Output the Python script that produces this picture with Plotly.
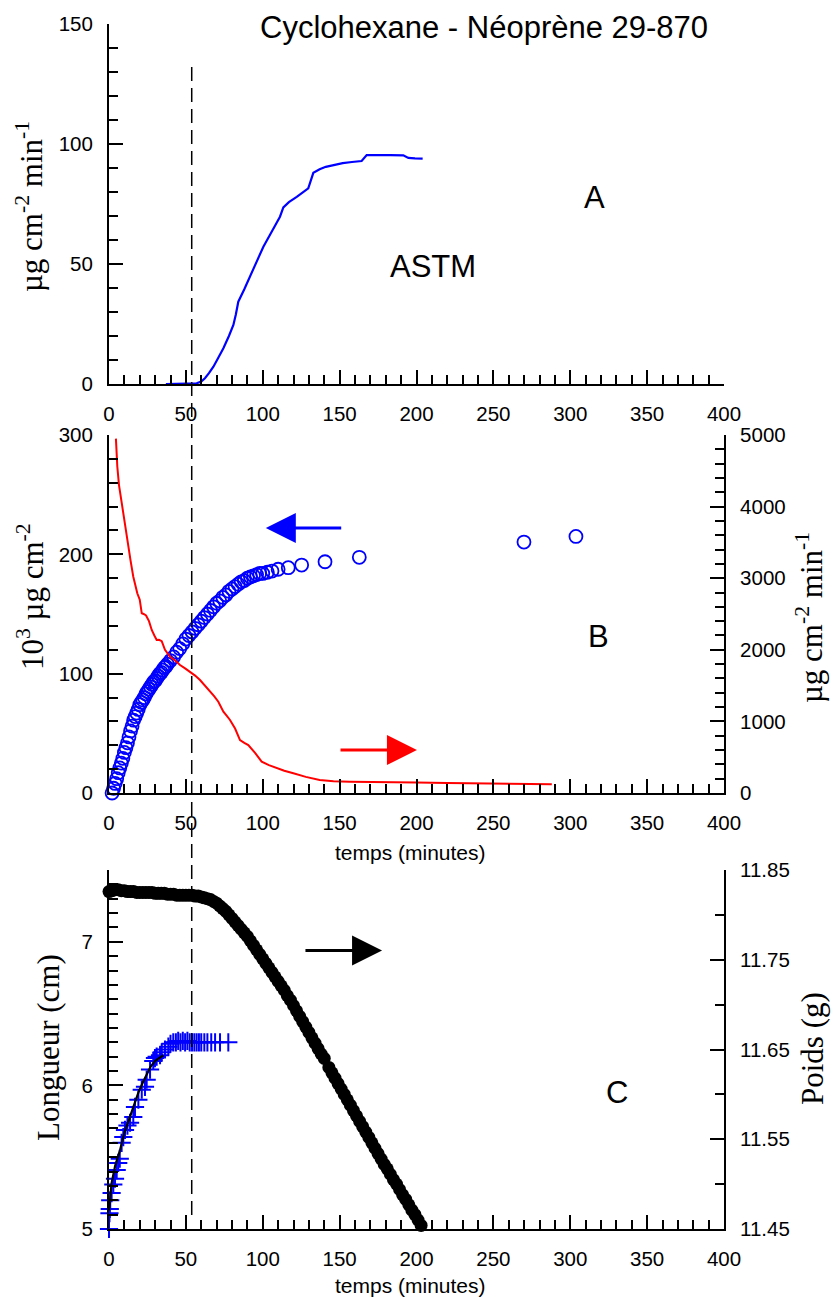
import plotly.graph_objects as go

# ---------------- DATA ----------------
# Panel A : ASTM permeation rate (µg cm-2 min-1)
t_astm = [37, 45, 52, 57, 60, 62.4, 65, 67.9, 71, 74.4, 78, 80.9, 82.5, 84.1, 88, 91.7, 96,
          100.4, 105, 108.5, 111.2, 113.4, 117, 122.1, 126, 129.6, 132.9, 137, 141, 145.9,
          152, 158, 164.3, 167.6, 175, 183, 191.4, 194.7, 199, 204]
flux_astm = [0, 0, 0, 0.3, 1.0, 2.4, 4.5, 7.2, 10.8, 14.9, 20, 24.6, 29, 34.3, 39.5, 44.7, 50.8,
             57.2, 62.5, 66.5, 69.7, 73.6, 75.8, 78, 80, 81.5, 88, 89.5, 90.5, 91.2,
             92, 92.5, 92.9, 95.4, 95.5, 95.4, 95.3, 94.2, 94.0, 93.9]

# Panel B : cumulative mass (10^3 µg cm-2, left axis)
t_cum = [2, 3, 4, 5, 6, 7, 8, 9, 10, 11, 12, 13, 14, 15, 16, 17, 18, 19, 20, 21, 22, 23, 24, 25,
         26, 27, 28, 29, 30, 31, 32, 33, 34, 35, 36, 37, 38, 40, 42, 44, 46, 48, 50, 52, 54, 56,
         58, 60, 62, 64, 66, 68, 70, 72, 74, 76, 78, 80, 82, 84, 86, 88, 90, 92, 94, 96, 98, 100,
         103, 106, 110, 116.6, 125.3, 140.5, 162.8, 269.9, 303.7]
cum = [0, 4, 8, 12, 17, 21, 25, 29, 34, 38, 42, 47, 52, 56, 61, 64, 67, 70, 74, 76, 78, 80, 83, 85,
       87, 89, 91, 93, 94, 96, 98, 100, 101, 103, 105, 106, 108, 111, 114, 118, 121, 125, 129, 132, 135, 138,
       141, 144, 147, 150, 153, 156, 159, 161, 164, 166, 169, 171, 173, 175, 177, 178, 180, 181, 182, 183, 184, 184,
       185, 186, 187.5, 188.8, 191, 193.8, 197.5, 210.3, 215]

# Panel B : permeation rate (µg cm-2 min-1, right axis)
t_rate = [4.5, 5.4, 6.5, 8.2, 10.4, 12.6, 14, 15.8, 18.4, 20, 21.3, 22.5, 24.1, 26, 27.8, 29.5, 31,
          32.5, 34.3, 36.4, 39.7, 43, 46.2, 49.5, 52.7, 56, 59.2, 62.5, 65.7, 68.5, 71.1, 72.8, 74.4,
          76.5, 78.7, 82, 85.2, 88, 90.6, 95, 99.3, 104, 109, 114, 119.9, 128, 137, 146, 156.7, 170,
          185, 200, 220, 240, 260, 275, 288]
rate = [4950, 4560, 4300, 4047, 3720, 3440, 3250, 3020, 2790, 2700, 2510, 2500, 2480, 2400, 2277, 2200, 2137,
        2140, 2120, 2000, 1904, 1850, 1787, 1740, 1695, 1640, 1578, 1500, 1415, 1350, 1275, 1200, 1135,
        1080, 1020, 900, 740, 700, 670, 560, 437, 390, 345, 310, 275, 225, 181, 165, 158, 152,
        148, 145, 140, 135, 130, 125, 121]

# Panel C : length (cm, left axis)
t_len = [0, 0.3, 0.5, 0.8, 1.7, 2.8, 3.9, 5.0, 6.0, 7.0, 8.2, 9.3, 10.4, 12.0, 13.7, 15.8, 16.9, 19.1,
         21.3, 23.4, 24.5, 26.7, 28.8, 29.9, 31.0, 33.2, 34.3, 36.4, 38.6, 40.0, 41.8, 43.5, 45.0, 46.5,
         48.0, 49.5, 51.0, 52.5, 54.0, 55.5, 57.0, 58.5, 60.0, 62.0, 64.0, 66.5, 69.0, 72.2, 77.6]
length = [5.00, 5.11, 5.14, 5.20, 5.25, 5.31, 5.35, 5.41, 5.46, 5.49, 5.60, 5.64, 5.69, 5.72, 5.74, 5.78, 5.85, 5.90,
          5.97, 5.99, 6.04, 6.11, 6.17, 6.19, 6.20, 6.21, 6.23, 6.25, 6.27, 6.29, 6.30, 6.30, 6.31, 6.30,
          6.31, 6.30, 6.31, 6.30, 6.30, 6.30, 6.30, 6.30, 6.30, 6.30, 6.30, 6.30, 6.30, 6.30, 6.30]

# Panel C : fitted length curve
t_fit = [0, 1.7, 4, 7.2, 10, 13.7, 16.5, 19.1, 22, 24.5, 27, 29.9, 32.5, 35.3]
fit = [5.13, 5.32, 5.44, 5.55, 5.67, 5.78, 5.87, 5.95, 6.02, 6.08, 6.13, 6.17, 6.19, 6.21]

# Panel C : weight (g, right axis)
t_w = [0, 2, 4, 6, 8, 10, 12, 14, 16, 18, 20, 22, 24, 26, 28, 30, 32, 34, 36, 38, 40, 42, 44, 46, 48,
       50, 52, 54, 56, 58, 60, 62, 64, 66, 68, 70, 72, 74, 76, 78, 80, 82, 84, 86, 88, 90, 92, 94, 96,
       98, 100, 102, 104, 106, 108, 110, 112, 114, 116, 118, 120, 122, 124, 126, 128, 130, 132, 134,
       136, 138, 140, 143, 145, 147, 149, 151, 153, 155, 157, 159, 161, 163, 165, 167, 169, 171, 173,
       175, 177, 179, 181, 183, 185, 187, 189, 191, 193, 195, 197, 199, 201, 203]
weight = [11.826, 11.827, 11.828, 11.828, 11.827, 11.827, 11.826, 11.826, 11.826, 11.825, 11.825, 11.825,
          11.825, 11.825, 11.825, 11.824, 11.824, 11.824, 11.824, 11.823, 11.823, 11.823, 11.822, 11.822,
          11.822, 11.822, 11.822, 11.822, 11.821, 11.821, 11.820, 11.819, 11.818, 11.817, 11.815, 11.813,
          11.810, 11.807, 11.804, 11.800, 11.796, 11.792, 11.788, 11.784, 11.780, 11.776, 11.771, 11.766,
          11.761, 11.756, 11.751, 11.746, 11.741, 11.736, 11.731, 11.726, 11.721, 11.716, 11.710, 11.705,
          11.699, 11.693, 11.687, 11.681, 11.675, 11.669, 11.663, 11.657, 11.651, 11.645, 11.640, 11.630,
          11.624, 11.618, 11.612, 11.606, 11.600, 11.594, 11.588, 11.582, 11.576, 11.570, 11.564, 11.558,
          11.552, 11.546, 11.540, 11.534, 11.528, 11.522, 11.517, 11.511, 11.505, 11.500, 11.494, 11.488,
          11.483, 11.477, 11.471, 11.466, 11.460, 11.454]

x_ticks = [0, 50, 100, 150, 200, 250, 300, 350, 400]
len_labels = [5, 6, 7]
len_half_ticks = [5.5, 6.5, 7.5]
t_break = 53.8  # dashed vertical line (breakthrough time)

# ---------------- LAYOUT HELPERS ----------------
W, H = 833, 1299
def px(x):
    return x / W
def py(y):
    return 1 - y / H

XD = [px(109), px(724)]
SANS = "Liberation Sans, Arial, sans-serif"
SERIF = "Liberation Serif, Times New Roman, serif"
BLUE = "#0000ff"
RED = "#ff0000"

fig = go.Figure()

fig.add_trace(go.Scatter(x=t_astm, y=flux_astm, mode="lines", line=dict(color=BLUE, width=2.2),
                         xaxis="x", yaxis="y", showlegend=False))
fig.add_trace(go.Scatter(x=t_rate, y=rate, mode="lines", line=dict(color=RED, width=2),
                         xaxis="x2", yaxis="y3", showlegend=False))
fig.add_trace(go.Scatter(x=t_cum, y=cum, mode="markers", cliponaxis=False,
                         marker=dict(symbol="circle-open", size=13, color=BLUE, line=dict(width=1.8, color=BLUE)),
                         xaxis="x2", yaxis="y2", showlegend=False))
fig.add_trace(go.Scatter(x=t_w, y=weight, mode="markers", cliponaxis=False,
                         marker=dict(symbol="circle", size=13, color="black"),
                         xaxis="x3", yaxis="y5", showlegend=False))
fig.add_trace(go.Scatter(x=t_len, y=length, mode="markers", cliponaxis=False,
                         marker=dict(symbol="cross-thin", size=13, color=BLUE, line=dict(width=2, color=BLUE)),
                         xaxis="x3", yaxis="y4", showlegend=False))
fig.add_trace(go.Scatter(x=t_fit, y=fit, mode="lines", line=dict(color="black", width=2.2),
                         xaxis="x3", yaxis="y4", showlegend=False))

TICKFONT = dict(family=SANS, size=20.5, color="black")

def xax(anchor):
    return dict(domain=XD, anchor=anchor, range=[0, 400], showline=True, linecolor="black", linewidth=2,
                ticks="inside", ticklen=14, tickwidth=2, tickcolor="black", tickvals=x_ticks,
                minor=dict(ticks="inside", ticklen=9, tickwidth=2, tickcolor="black", dtick=10, tick0=0),
                showgrid=False, zeroline=False, mirror=False, ticklabelstandoff=10, automargin=False,
                tickfont=TICKFONT)

def yax(domain, rng, dtick, minor, anchor, side="left", overlaying=None, tick0=None, fmt=None,
        tickvals=None):
    d = dict(domain=domain, anchor=anchor, range=rng, side=side, showline=True, linecolor="black",
             linewidth=2, ticks="inside", ticklen=14, tickwidth=2, tickcolor="black",
             minor=dict(ticks="inside", ticklen=9, tickwidth=2, tickcolor="black", dtick=minor,
                        tick0=rng[0]),
             showgrid=False, zeroline=False, ticklabelstandoff=10, automargin=False,
             tickfont=TICKFONT)
    if tickvals is not None:
        d["tickvals"] = tickvals
    else:
        d["dtick"] = dtick
        d["tick0"] = rng[0] if tick0 is None else tick0
    if overlaying:
        d["overlaying"] = overlaying
    if fmt:
        d["tickformat"] = fmt
    return d

DOM_C = [py(1229), py(870)]
fig.update_layout(
    width=W, height=H, margin=dict(l=0, r=0, t=0, b=0, pad=0), autosize=False,
    paper_bgcolor="white", plot_bgcolor="white", showlegend=False,
    font=dict(family=SANS, color="black"),
    xaxis=xax("y"),
    xaxis2=xax("y2"),
    xaxis3=xax("y4"),
    yaxis=yax([py(384), py(24)], [0, 150], 50, 10, "x"),
    yaxis2=yax([py(793), py(435)], [0, 300], 100, 20, "x2"),
    yaxis3=yax([py(793), py(435)], [0, 5000], 1000, 200, "x2", side="right", overlaying="y2"),
    yaxis4=yax(DOM_C, [5, 7.5], None, 0.1, "x3", tickvals=len_labels),
    yaxis5=yax(DOM_C, [11.45, 11.85], 0.1, 0.05, "x3", side="right", overlaying="y4",
               tick0=11.45, fmt=".2f"),
    # unlabeled long ticks at the half-centimetres of the length axis
    yaxis6=dict(domain=DOM_C, anchor="x3", overlaying="y4", side="left", range=[5, 7.5],
                tickvals=len_half_ticks, ticks="inside", ticklen=14, tickwidth=2, tickcolor="black",
                showticklabels=False, showline=False, showgrid=False, zeroline=False, automargin=False),
)

# dashed breakthrough line through all panels
fig.add_shape(type="line", xref="x", yref="paper", x0=t_break, x1=t_break, y0=py(1215), y1=py(60),
              line=dict(color="black", width=1.5, dash="14px,7px"), layer="above")

def txt(x, y, s, size, family=SANS, angle=0):
    fig.add_annotation(xref="paper", yref="paper", x=px(x), y=py(y), text=s, showarrow=False,
                       xanchor="center", yanchor="middle", textangle=angle,
                       font=dict(family=family, size=size, color="black"))

txt(484, 28, "Cyclohexane - Néoprène 29-870", 31)
txt(433, 266, "ASTM", 31)
txt(594, 198, "A", 31)
txt(598, 637, "B", 31)
txt(617, 1092, "C", 31)
txt(410, 852, "temps (minutes)", 21)
txt(410, 1285, "temps (minutes)", 21)
txt(30, 207, "µg cm<sup>-2</sup> min<sup>-1</sup>", 31, SERIF, -90)
txt(30, 597, "10<sup>3</sup> µg cm<sup>-2</sup>", 31, SERIF, -90)
txt(810, 618, "µg cm<sup>-2</sup> min<sup>-1</sup>", 31, SERIF, -90)
txt(48, 1048, "Longueur (cm)", 31, SERIF, -90)
txt(812, 1049, "Poids (g)", 31, SERIF, -90)

# direction arrows
def arrow(xref, yref, x, y, ax, ay, color):
    fig.add_annotation(xref=xref, yref=yref, axref=xref, ayref=yref, x=x, y=y, ax=ax, ay=ay,
                       text="", showarrow=True, arrowhead=2, arrowsize=2.0, arrowwidth=3,
                       arrowcolor=color)

arrow("x2", "y2", 102, 222, 152, 222, BLUE)
arrow("x2", "y2", 200.3, 36, 149.6, 36, RED)
arrow("x3", "y4", 177.6, 6.94, 126.8, 6.94, "black")

fig.write_html("out.html")
